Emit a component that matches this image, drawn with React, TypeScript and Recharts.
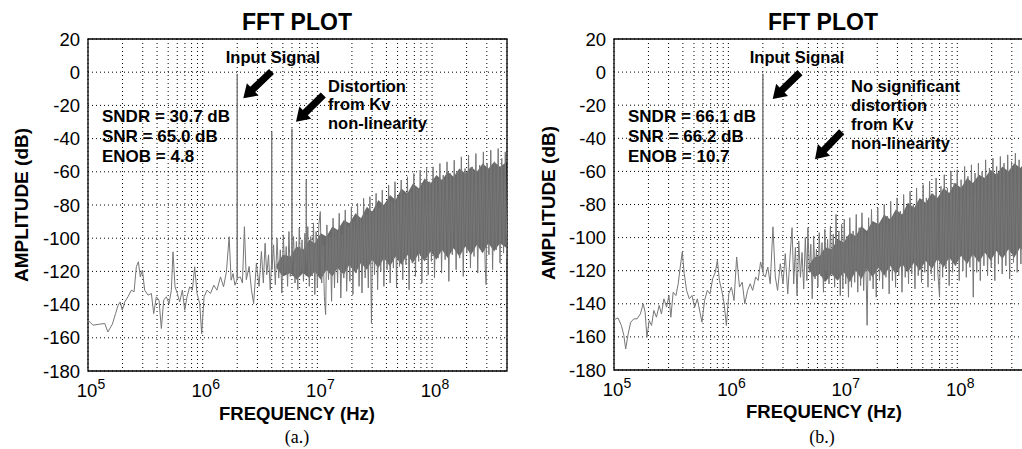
import React from 'react';
import { ComposedChart, Line, Area, XAxis, YAxis, CartesianGrid, ReferenceArea } from 'recharts';

const FONT = "'Liberation Sans', Arial, Helvetica, sans-serif";

const Y_TICKS = [-180, -160, -140, -120, -100, -80, -60, -40, -20, 0, 20];
const X_TICKS = [
  1e5, 2e5, 3e5, 4e5, 5e5, 6e5, 7e5, 8e5, 9e5,
  1e6, 2e6, 3e6, 4e6, 5e6, 6e6, 7e6, 8e6, 9e6,
  1e7, 2e7, 3e7, 4e7, 5e7, 6e7, 7e7, 8e7, 9e7,
  1e8, 2e8, 3e8, 4e8,
];
const MAJOR_TICKS = [1e5, 1e6, 1e7, 1e8];
const X_DOMAIN = [1e5, 4.5e8];

// ---------- Panel (a) ----------
const A_TRACE: [number, number][] = [
  [1.0e5, -149.4], [1.105e5, -152.4], [1.26e5, -151.8], [1.4e5, -151.4], [1.49e5, -156.5],
  [1.63e5, -151.8], [1.74e5, -145.4], [1.83e5, -140.4], [1.91e5, -138.4], [1.99e5, -143.4],
  [2.09e5, -138.4], [2.23e5, -135.3], [2.39e5, -131.3], [2.52e5, -132.3], [2.64e5, -117.2],
  [2.75e5, -114.2], [2.86e5, -123.3], [2.98e5, -119.2], [3.12e5, -131.3], [3.34e5, -134.3],
  [3.57e5, -133.3], [3.74e5, -145.4], [3.94e5, -135.3], [4.16e5, -137.3], [4.36e5, -154.4],
  [4.57e5, -137.3], [4.82e5, -135.3], [5.09e5, -139.4], [5.33e5, -131.3], [5.51e5, -108.2],
  [5.74e5, -129.3], [6.01e5, -133.3], [6.3e5, -138.4], [6.65e5, -131.3], [6.97e5, -143.4],
  [7.3e5, -135.3], [7.7e5, -129.3], [8.13e5, -131.3], [8.51e5, -117.2], [8.93e5, -133.3],
  [9.42e5, -139.4], [9.8e5, -157.5], [1.028e6, -135.3], [1.09e6, -131.3], [1.17e6, -133.3],
  [1.25e6, -128.3], [1.33e6, -131.3], [1.43e6, -123.3], [1.52e6, -129.3], [1.61e6, -120.2],
  [1.7e6, -99.1], [1.77e6, -125.3], [1.84e6, -121.3], [1.91e6, -128.3], [1.99e6, -125],
  [2.0e6, -1], [2.01e6, -124], [2.13e6, -123.3], [2.22e6, -127], [2.31e6, -93.1],
  [2.4e6, -125], [2.54e6, -117], [2.66e6, -131], [2.78e6, -139.4], [2.94e6, -115],
  [3.1e6, -129],
];
const A_NOISE: [number, number][] = [
  [3.25e6, -108], [3.38e6, -127], [3.5e6, -103], [3.62e6, -122], [3.75e6, -110], [3.88e6, -131],
  [3.98e6, -116], [4.0e6, -36], [4.02e6, -119], [4.15e6, -104], [4.3e6, -128], [4.45e6, -100],
  [4.6e6, -124], [4.75e6, -107], [4.9e6, -133], [5.05e6, -98], [5.2e6, -121], [5.35e6, -105],
  [5.5e6, -129], [5.65e6, -96], [5.8e6, -123], [5.98e6, -110], [6.0e6, -34], [6.02e6, -113],
  [6.2e6, -99], [6.38e6, -127], [6.56e6, -102], [6.75e6, -131], [6.95e6, -94], [7.15e6, -120],
  [7.35e6, -101], [7.56e6, -126], [7.78e6, -97], [7.98e6, -108], [8.0e6, -65], [8.02e6, -115],
  [8.25e6, -93], [8.5e6, -129], [8.75e6, -99], [9.0e6, -122], [9.25e6, -91], [9.5e6, -134],
  [9.75e6, -96],
  [1.0e7, -130], [1.03e7, -92], [1.06e7, -84], [1.09e7, -127], [1.12e7, -104], [1.15e7, -135],
  [1.18e7, -146], [1.21e7, -92], [1.25e7, -125], [1.29e7, -99], [1.33e7, -138], [1.37e7, -88],
  [1.41e7, -130], [1.45e7, -95], [1.5e7, -127], [1.55e7, -85], [1.6e7, -136], [1.65e7, -98],
  [1.7e7, -124], [1.75e7, -83], [1.8e7, -132], [1.86e7, -93], [1.92e7, -126], [1.98e7, -81],
  [2.04e7, -134], [2.1e7, -90], [2.17e7, -121], [2.24e7, -79], [2.31e7, -129], [2.38e7, -88],
  [2.45e7, -133], [2.53e7, -76], [2.61e7, -124], [2.69e7, -86], [2.78e7, -130], [2.87e7, -75],
  [2.96e7, -151], [3.05e7, -84], [3.15e7, -122], [3.25e7, -73], [3.35e7, -131], [3.46e7, -82],
  [3.57e7, -120], [3.68e7, -71], [3.8e7, -129], [3.92e7, -80], [4.05e7, -119], [4.18e7, -68],
  [4.31e7, -127], [4.45e7, -78], [4.6e7, -118], [4.75e7, -66], [4.9e7, -130], [5.05e7, -76],
  [5.2e7, -117], [5.38e7, -65], [5.55e7, -125], [5.73e7, -74], [5.92e7, -116], [6.1e7, -63],
  [6.3e7, -131], [6.5e7, -72], [6.72e7, -115], [6.94e7, -61], [7.16e7, -123], [7.4e7, -70],
  [7.64e7, -114], [7.88e7, -59], [8.14e7, -127], [8.4e7, -68], [8.68e7, -113], [8.96e7, -58],
  [9.25e7, -122], [9.55e7, -66], [9.86e7, -114],
  [1.02e8, -57], [1.05e8, -124], [1.09e8, -64], [1.13e8, -112], [1.17e8, -55], [1.21e8, -121],
  [1.25e8, -62], [1.3e8, -113], [1.35e8, -54], [1.4e8, -126], [1.45e8, -61], [1.5e8, -110],
  [1.56e8, -53], [1.62e8, -119], [1.68e8, -60], [1.74e8, -112], [1.8e8, -51], [1.87e8, -123],
  [1.94e8, -58], [2.01e8, -109], [2.08e8, -50], [2.16e8, -118], [2.24e8, -57], [2.32e8, -111],
  [2.41e8, -49], [2.5e8, -121], [2.6e8, -56], [2.7e8, -108], [2.8e8, -48], [2.9e8, -116],
  [2.96e8, -128], [3.02e8, -55], [3.13e8, -110], [3.25e8, -47], [3.37e8, -119], [3.5e8, -54],
  [3.63e8, -107], [3.77e8, -46], [3.91e8, -115], [4.05e8, -52], [4.2e8, -109], [4.35e8, -48],
  [4.5e8, -113],
];
const A_BAND: [number, number, number][] = [
  [4.4e6, -118, -116], [5e6, -123, -110],
  [5.8e6, -121, -111], [6.6e6, -125, -105], [7.5e6, -121, -107], [8.5e6, -124, -101],
  [9.5e6, -120, -103], [1.07e7, -125, -97], [1.2e7, -119, -99], [1.35e7, -123, -93],
  [1.5e7, -118, -95], [1.7e7, -122, -89], [1.9e7, -116, -91], [2.15e7, -121, -85],
  [2.4e7, -115, -88], [2.7e7, -119, -81], [3.0e7, -113, -84], [3.4e7, -118, -77],
  [3.8e7, -112, -80], [4.3e7, -117, -74], [4.8e7, -111, -77], [5.4e7, -116, -70],
  [6.1e7, -110, -73], [6.8e7, -115, -67], [7.7e7, -109, -70], [8.6e7, -114, -64],
  [9.7e7, -108, -67], [1.09e8, -113, -62], [1.22e8, -107, -65], [1.37e8, -112, -60],
  [1.54e8, -106, -63], [1.73e8, -111, -58], [1.95e8, -105, -61], [2.19e8, -110, -57],
  [2.46e8, -104, -60], [2.76e8, -109, -55], [3.1e8, -103, -58], [3.48e8, -108, -54],
  [3.9e8, -103, -57], [4.5e8, -106, -54],
];

// ---------- Panel (b) ----------
const B_TRACE: [number, number][] = [
  [1.0e5, -149.7], [1.084e5, -148.5], [1.16e5, -153.1], [1.22e5, -159.2], [1.265e5, -167.3],
  [1.33e5, -158.2], [1.4e5, -151.1], [1.49e5, -149.1], [1.59e5, -149.1], [1.7e5, -146.1],
  [1.8e5, -140], [1.87e5, -145], [1.94e5, -160.2], [2.03e5, -150.1], [2.13e5, -153.1],
  [2.23e5, -144], [2.35e5, -148.1], [2.48e5, -141], [2.6e5, -146.1], [2.73e5, -137],
  [2.88e5, -142], [3.02e5, -135], [3.14e5, -148.1], [3.29e5, -133], [3.48e5, -135],
  [3.64e5, -127.9], [3.79e5, -117.8], [3.95e5, -108.7], [4.11e5, -121.8], [4.31e5, -131.9],
  [4.55e5, -137], [4.8e5, -135], [5.07e5, -142], [5.35e5, -137], [5.64e5, -145],
  [5.87e5, -151.1], [6.19e5, -138], [6.54e5, -131.9], [6.9e5, -134], [7.29e5, -124.8],
  [7.69e5, -120.8], [8.01e5, -113.7], [8.34e5, -125.9], [8.74e5, -131.9], [9.17e5, -140],
  [9.6e5, -153.1], [1.007e6, -134], [1.062e6, -129.9], [1.12e6, -138], [1.18e6, -111.7],
  [1.25e6, -129.9], [1.32e6, -126.9], [1.39e6, -140], [1.47e6, -131.9], [1.55e6, -127.9],
  [1.63e6, -131.9], [1.73e6, -123.8], [1.82e6, -125.9], [1.91e6, -114.7], [1.99e6, -120],
  [2.0e6, -1], [2.01e6, -122], [2.1e6, -123.8], [2.21e6, -117.8], [2.32e6, -127.9],
  [2.45e6, -93.5], [2.57e6, -123.8], [2.69e6, -131.9], [2.84e6, -115.8], [3.0e6, -127.9],
  [3.14e6, -109.7], [3.3e6, -134],
];
const B_NOISE: [number, number][] = [
  [3.45e6, -112], [3.6e6, -94], [3.72e6, -128], [3.85e6, -106], [3.98e6, -135], [4.12e6, -102],
  [4.26e6, -124], [4.4e6, -109], [4.55e6, -131], [4.7e6, -100], [4.85e6, -126], [4.95e6, -94],
  [5.1e6, -121], [5.25e6, -104], [5.4e6, -137], [5.56e6, -99], [5.72e6, -125], [5.88e6, -107],
  [6.05e6, -130], [6.22e6, -97], [6.4e6, -123], [6.58e6, -103], [6.77e6, -133], [6.96e6, -95],
  [7.16e6, -120], [7.36e6, -101], [7.57e6, -128], [7.79e6, -93], [8.01e6, -122], [8.24e6, -98],
  [8.48e6, -130], [8.72e6, -86], [8.97e6, -124], [9.23e6, -96], [9.5e6, -135], [9.77e6, -92],
  [1.0e7, -131], [1.03e7, -89], [1.06e7, -128], [1.09e7, -99], [1.12e7, -136], [1.15e7, -88],
  [1.19e7, -130], [1.23e7, -96], [1.27e7, -127], [1.31e7, -86], [1.35e7, -133], [1.39e7, -94],
  [1.43e7, -129], [1.47e7, -85], [1.52e7, -132], [1.57e7, -97], [1.63e7, -153], [1.68e7, -88],
  [1.73e7, -126], [1.78e7, -83], [1.84e7, -131], [1.9e7, -92], [1.96e7, -136], [2.02e7, -82],
  [2.09e7, -126], [2.16e7, -90], [2.23e7, -131], [2.3e7, -80], [2.38e7, -124], [2.46e7, -87],
  [2.54e7, -134], [2.62e7, -78], [2.71e7, -126], [2.8e7, -86], [2.89e7, -130], [2.98e7, -76],
  [3.08e7, -123], [3.18e7, -84], [3.29e7, -133], [3.4e7, -74], [3.51e7, -124], [3.63e7, -82],
  [3.75e7, -128], [3.87e7, -72], [4.0e7, -122], [4.13e7, -80], [4.27e7, -131], [4.41e7, -70],
  [4.56e7, -123], [4.71e7, -78], [4.87e7, -127], [5.03e7, -68], [5.2e7, -121], [5.37e7, -76],
  [5.55e7, -130], [5.73e7, -66], [5.92e7, -122], [6.12e7, -74], [6.32e7, -126], [6.53e7, -64],
  [6.75e7, -120], [7.0e7, -136], [7.2e7, -69], [7.45e7, -124], [7.7e7, -62], [7.95e7, -119],
  [8.2e7, -70], [8.5e7, -129], [8.8e7, -60], [9.1e7, -121], [9.4e7, -67], [9.7e7, -117],
  [1.0e8, -59], [1.04e8, -126], [1.08e8, -65], [1.12e8, -120], [1.16e8, -57], [1.2e8, -124],
  [1.24e8, -63], [1.29e8, -118], [1.33e8, -56], [1.38e8, -136], [1.43e8, -61], [1.48e8, -121],
  [1.53e8, -55], [1.59e8, -126], [1.65e8, -60], [1.71e8, -117], [1.77e8, -53], [1.84e8, -123],
  [1.91e8, -58], [1.98e8, -118], [2.05e8, -52], [2.13e8, -126], [2.21e8, -57], [2.29e8, -116],
  [2.38e8, -51], [2.47e8, -122], [2.56e8, -55], [2.66e8, -117], [2.76e8, -50], [2.87e8, -125],
  [2.98e8, -54], [3.1e8, -115], [3.22e8, -49], [3.34e8, -121], [3.47e8, -53], [3.6e8, -116],
  [3.74e8, -48], [3.88e8, -123], [4.03e8, -52], [4.18e8, -115], [4.34e8, -49], [4.5e8, -118],
];
const B_BAND: [number, number, number][] = [
  [5.0e6, -119, -117], [5.6e6, -124, -112],
  [6.3e6, -122, -111], [7e6, -127, -106], [8e6, -122, -107], [9e6, -126, -101],
  [1.02e7, -121, -103], [1.15e7, -127, -97], [1.3e7, -120, -99], [1.45e7, -125, -93],
  [1.62e7, -119, -96], [1.82e7, -124, -90], [2.05e7, -118, -92], [2.3e7, -123, -86],
  [2.6e7, -117, -89], [2.9e7, -122, -83], [3.3e7, -116, -86], [3.7e7, -121, -79],
  [4.2e7, -115, -82], [4.7e7, -120, -76], [5.3e7, -114, -79], [6e7, -119, -73],
  [6.7e7, -113, -76], [7.6e7, -118, -70], [8.5e7, -112, -73], [9.6e7, -117, -67],
  [1.08e8, -111, -70], [1.22e8, -116, -64], [1.37e8, -110, -67], [1.55e8, -115, -62],
  [1.74e8, -109, -64], [1.96e8, -114, -59], [2.2e8, -108, -62], [2.48e8, -113, -57],
  [2.8e8, -107, -60], [3.15e8, -112, -55], [3.55e8, -106, -58], [4e8, -111, -54],
  [4.5e8, -107, -56],
];

const XTick = (props: any) => {
  const { x, y, payload } = props;
  const v = payload.value;
  if (!MAJOR_TICKS.includes(v)) return <g />;
  const exp = Math.round(Math.log10(v));
  return (
    <g>
      <text x={x - 1} y={y + 18} textAnchor="middle" fontSize={18.5} fontFamily={FONT} fill="#000">10</text>
      <text x={x + 9.5} y={y + 10} textAnchor="start" fontSize={14} fontFamily={FONT} fill="#000">{exp}</text>
    </g>
  );
};

type PanelProps = {
  trace: [number, number][];
  noise: [number, number][];
  band: [number, number, number][];
  width: number;
  margin: { top: number; right: number; bottom: number; left: number };
};

const Panel = ({ trace, noise, band, width, margin }: PanelProps) => {
  const lineData = trace.concat(noise).map(([f, v]) => ({ f, v }));
  const bandData = band.map(([f, lo, hi]) => ({ f, r: [lo, hi] }));
  return (
    <ComposedChart width={width} height={449} margin={margin}>
      <CartesianGrid stroke="#000" strokeDasharray="1 3" strokeWidth={1} />
      <XAxis
        type="number"
        dataKey="f"
        scale="log"
        domain={X_DOMAIN}
        allowDataOverflow
        ticks={X_TICKS}
        interval={0}
        tick={<XTick />}
        tickLine={false}
        axisLine={false}
        height={30}
      />
      <YAxis
        type="number"
        domain={[-180, 20]}
        ticks={Y_TICKS}
        interval={0}
        allowDataOverflow
        tickLine={false}
        axisLine={false}
        width={60}
        tick={{ fill: '#000', fontSize: 18.5, fontFamily: FONT }}
      />
      <Area
        data={bandData}
        dataKey="r"
        type="linear"
        stroke="none"
        fill="#6a6a6a"
        fillOpacity={1}
        isAnimationActive={false}
        dot={false}
        activeDot={false}
      />
      <Line
        data={lineData}
        dataKey="v"
        type="linear"
        stroke="#777777"
        strokeWidth={1}
        dot={false}
        activeDot={false}
        isAnimationActive={false}
      />
      <ReferenceArea x1={X_DOMAIN[0]} x2={X_DOMAIN[1]} y1={-180} y2={20} fill="none" stroke="#000" strokeWidth={1.3} fillOpacity={0} />
    </ComposedChart>
  );
};

const arrow = (tx: number, ty: number, hx: number, hy: number) => {
  const dx = hx - tx, dy = hy - ty;
  const L = Math.hypot(dx, dy);
  const ux = dx / L, uy = dy / L;
  const px = -uy, py = ux;
  const sw = 3.6, hw = 8.5, hl = 13;
  const bx = hx - ux * hl, by = hy - uy * hl;
  const pts = [
    [tx + px * sw, ty + py * sw],
    [bx + px * sw, by + py * sw],
    [bx + px * hw, by + py * hw],
    [hx, hy],
    [bx - px * hw, by - py * hw],
    [bx - px * sw, by - py * sw],
    [tx - px * sw, ty - py * sw],
  ];
  return <polygon points={pts.map((p) => p.join(',')).join(' ')} fill="#000" />;
};

const T = (p: any) => (
  <text fontFamily={FONT} fontWeight="bold" fill="#000" {...p} />
);

export default function App() {
  return (
    <div style={{ position: 'absolute', left: 0, top: 0, width: 1022, height: 449, overflow: 'hidden', background: '#fff' }}>
      <div style={{ position: 'absolute', left: 0, top: 0 }}>
        <Panel trace={A_TRACE} noise={A_NOISE} band={A_BAND} width={520}
          margin={{ top: 39, right: 13, bottom: 48, left: 28 }} />
      </div>
      <div style={{ position: 'absolute', left: 520, top: 0 }}>
        <Panel trace={B_TRACE} noise={B_NOISE} band={B_BAND} width={530}
          margin={{ top: 39, right: 18, bottom: 49, left: 34 }} />
      </div>
      <svg width={1022} height={449} style={{ position: 'absolute', left: 0, top: 0, pointerEvents: 'none' }}>
        {/* Panel (a) */}
        <T x={297} y={30} fontSize={23} textAnchor="middle">FFT PLOT</T>
        <T x={0} y={0} fontSize={19} textAnchor="middle" dominantBaseline="central" transform="translate(21,205) rotate(-90)">AMPLITUDE (dB)</T>
        <T x={297} y={420} fontSize={18.5} textAnchor="middle">FREQUENCY (Hz)</T>
        <text x={297} y={443} fontSize={18} textAnchor="middle" fontFamily="'Liberation Serif', 'Times New Roman', serif" fill="#000">(a.)</text>
        <T x={273} y={63} fontSize={16.5} textAnchor="middle">Input Signal</T>
        <T x={102} y={122} fontSize={17}>SNDR = 30.7 dB</T>
        <T x={102} y={142} fontSize={17}>SNR = 65.0 dB</T>
        <T x={102} y={162} fontSize={17}>ENOB = 4.8</T>
        <T x={328} y={92} fontSize={16.5}>Distortion</T>
        <T x={328} y={110} fontSize={16.5}>from Kv</T>
        <T x={328} y={129} fontSize={16.5}>non-linearity</T>
        {arrow(271.5, 71.5, 243.3, 98.3)}
        {arrow(323.3, 95, 296, 121.7)}

        {/* Panel (b) */}
        <T x={823} y={30} fontSize={23} textAnchor="middle">FFT PLOT</T>
        <T x={0} y={0} fontSize={19} textAnchor="middle" dominantBaseline="central" transform="translate(548,203) rotate(-90)">AMPLITUDE (dB)</T>
        <T x={824} y={418} fontSize={18.5} textAnchor="middle">FREQUENCY (Hz)</T>
        <text x={822} y={443} fontSize={18} textAnchor="middle" fontFamily="'Liberation Serif', 'Times New Roman', serif" fill="#000">(b.)</text>
        <T x={797} y={63} fontSize={16.5} textAnchor="middle">Input Signal</T>
        <T x={628} y={122} fontSize={17}>SNDR = 66.1 dB</T>
        <T x={628} y={142} fontSize={17}>SNR = 66.2 dB</T>
        <T x={628} y={162} fontSize={17}>ENOB = 10.7</T>
        <T x={851} y={92} fontSize={16.5}>No significant</T>
        <T x={851} y={111} fontSize={16.5}>distortion</T>
        <T x={851} y={130} fontSize={16.5}>from Kv</T>
        <T x={851} y={149} fontSize={16.5}>non-linearity</T>
        {arrow(800, 72.7, 772.7, 99)}
        {arrow(841.7, 131.7, 815, 159.3)}
      </svg>
    </div>
  );
}
